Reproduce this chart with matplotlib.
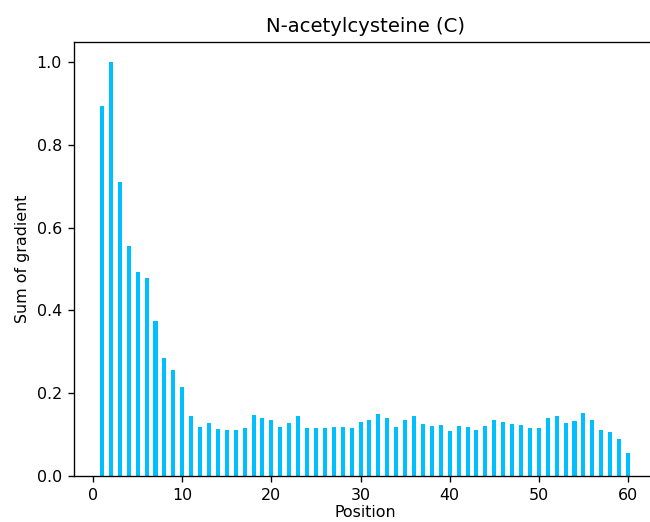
import matplotlib
matplotlib.use("Agg")
import matplotlib.pyplot as plt
import numpy as np

positions = list(range(1, 61))
values = [
    0.895, 1.000, 0.710, 0.556, 0.494, 0.478, 0.375, 0.284, 0.257, 0.214,
    0.146, 0.119, 0.129, 0.114, 0.112, 0.111, 0.117, 0.148, 0.139, 0.135,
    0.119, 0.129, 0.146, 0.116, 0.115, 0.117, 0.119, 0.118, 0.115, 0.131,
    0.136, 0.151, 0.140, 0.119, 0.135, 0.144, 0.125, 0.122, 0.123, 0.109,
    0.120, 0.119, 0.110, 0.122, 0.135, 0.131, 0.125, 0.123, 0.117, 0.115,
    0.140, 0.146, 0.127, 0.133, 0.152, 0.136, 0.112, 0.106, 0.089, 0.056,
]
title = "N-acetylcysteine (C)"
xlabel = "Position"
ylabel = "Sum of gradient"

DPI = 120
fig = plt.figure(figsize=(650 / DPI, 522 / DPI), dpi=DPI)
ax = fig.add_axes([73.5 / 650, 46 / 522, 583 / 650, 434.5 / 522])
ax.bar(positions, values, width=0.45, color="#00BFFF")
ax.set_title(title, fontsize=11.75)
ax.set_xlabel(xlabel, labelpad=1.5, fontsize=9.5)
ax.set_ylabel(ylabel, fontsize=9.5)
ax.tick_params(labelsize=9.5)
ax.spines["right"].set_visible(False)
fig.savefig("out.png", dpi=DPI)
